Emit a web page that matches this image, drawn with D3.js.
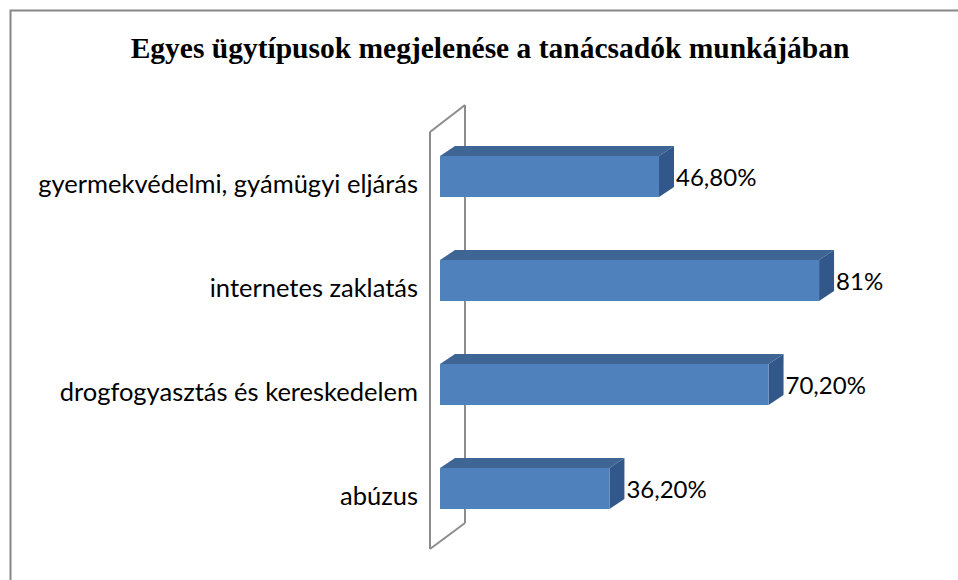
<!DOCTYPE html>
<html>
<head>
<meta charset="utf-8">
<script src="https://cdn.jsdelivr.net/npm/d3@7"></script>
<style>
  body { margin: 0; background: #fff; }
  .cat { font-family: Lato, sans-serif; font-size: 25.5px; fill: #000; }
  .val { font-family: Lato, sans-serif; font-size: 24px; fill: #000; }
  .title { font-family: "Liberation Serif", serif; font-weight: bold; font-size: 29.5px; }
</style>
</head>
<body>
<div class="chart"></div>
<script>
var svgWidth = 958;
var svgHeight = 580;

// data
var categories = ["gyermekvédelmi, gyámügyi eljárás", "internetes zaklatás", "drogfogyasztás és kereskedelem", "abúzus"];
var values = [0.468, 0.81, 0.702, 0.362];
var valueLabels = ["46,80%", "81%", "70,20%", "36,20%"];

var depth = { dx: 15, dy: -10 };
var barHeight = 41;

var svg = d3.select(".chart")
  .append("svg")
  .attr("width", svgWidth)
  .attr("height", svgHeight);

// chart border (only top and left visible)
svg.append("rect")
  .attr("x", 10.5)
  .attr("y", 10.5)
  .attr("width", svgWidth + 20)
  .attr("height", svgHeight + 20)
  .attr("fill", "none")
  .attr("stroke", "#888")
  .attr("stroke-width", 2);

svg.append("text")
  .attr("class", "title")
  .attr("x", 490)
  .attr("y", 58)
  .attr("text-anchor", "middle")
  .text("Egyes ügytípusok megjelenése a tanácsadók munkájában");

var xScale = d3.scaleLinear()
  .domain([0, 1])
  .range([440, 908]);

var yScale = d3.scalePoint()
  .domain(categories)
  .range([176.5, 488.5]);

// wall geometry
var wallFront = xScale(0) - 10;
var wallBack = wallFront + 35;
var wallTop = 132, wallBottom = 549;

// back line of the wall, behind the bars
svg.append("line")
  .attr("x1", wallBack).attr("y1", wallTop - 27)
  .attr("x2", wallBack).attr("y2", wallBottom - 26)
  .attr("stroke", "#8c8c8c")
  .attr("stroke-width", 2);

var bars = svg.selectAll(".bar")
  .data(categories)
  .enter()
  .append("g")
  .attr("class", "bar");

bars.each(function(c, i) {
  var g = d3.select(this);
  var x0 = xScale(0);
  var x1 = xScale(values[i]);
  var yt = yScale(c) - barHeight / 2;
  var yb = yt + barHeight;

  // top face
  g.append("polygon")
    .attr("points", [[x0, yt], [x0 + depth.dx, yt + depth.dy], [x1 + depth.dx, yt + depth.dy], [x1, yt]].join(" "))
    .attr("fill", "#3e6594");
  // side face
  g.append("polygon")
    .attr("points", [[x1, yt], [x1 + depth.dx, yt + depth.dy], [x1 + depth.dx, yb + depth.dy], [x1, yb]].join(" "))
    .attr("fill", "#32578a");
  // front face
  g.append("rect")
    .attr("x", x0)
    .attr("y", yt)
    .attr("width", x1 - x0)
    .attr("height", barHeight)
    .attr("fill", "#4f81bd");

  g.append("text")
    .attr("class", "val")
    .attr("x", x1 + depth.dx + 2)
    .attr("y", yScale(c) + 3)
    .attr("dominant-baseline", "middle")
    .text(valueLabels[i]);

  g.append("text")
    .attr("class", "cat")
    .attr("x", 418)
    .attr("y", yScale(c) + 10)
    .attr("text-anchor", "end")
    .attr("dominant-baseline", "middle")
    .text(c);
});

// front edges of the wall
var wall = svg.append("g")
  .attr("fill", "none")
  .attr("stroke", "#8c8c8c")
  .attr("stroke-width", 2);

wall.append("line")
  .attr("x1", wallFront).attr("y1", wallTop)
  .attr("x2", wallFront).attr("y2", wallBottom);
wall.append("line")
  .attr("x1", wallFront).attr("y1", wallTop)
  .attr("x2", wallBack).attr("y2", wallTop - 27);
wall.append("line")
  .attr("x1", wallFront).attr("y1", wallBottom)
  .attr("x2", wallBack).attr("y2", wallBottom - 26);
</script>
</body>
</html>
